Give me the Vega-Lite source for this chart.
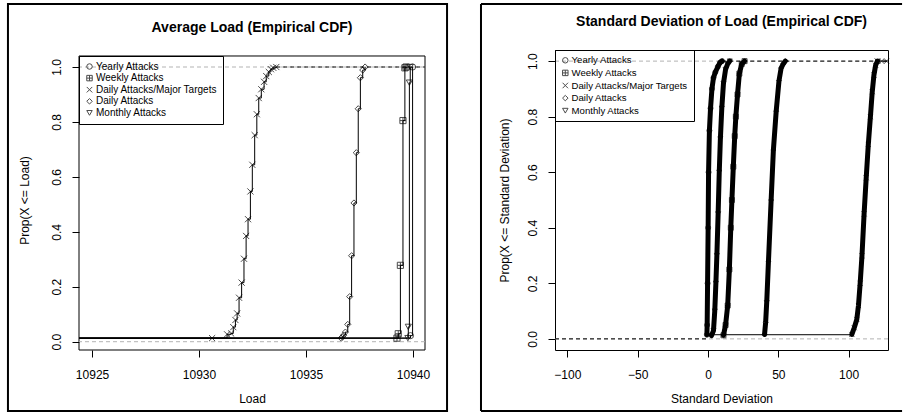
{
  "$schema": "https://vega.github.io/schema/vega-lite/v6.json",
  "background": "white",
  "padding": {"left": 6, "top": 2, "right": 0, "bottom": 2},
  "spacing": 30,
  "resolve": {"scale": {"shape": "independent"}, "legend": {"shape": "independent"}},
  "datasets": {
    "load": [
      {"s": "Daily Attacks/Major Targets", "x": 10924.39, "y": 0.013, "m": 0},
      {"s": "Daily Attacks/Major Targets", "x": 10930.61, "y": 0.013, "m": 1},
      {"s": "Daily Attacks/Major Targets", "x": 10931.31, "y": 0.027, "m": 1},
      {"s": "Daily Attacks/Major Targets", "x": 10931.50, "y": 0.030, "m": 1},
      {"s": "Daily Attacks/Major Targets", "x": 10931.60, "y": 0.053, "m": 1},
      {"s": "Daily Attacks/Major Targets", "x": 10931.70, "y": 0.079, "m": 1},
      {"s": "Daily Attacks/Major Targets", "x": 10931.78, "y": 0.103, "m": 1},
      {"s": "Daily Attacks/Major Targets", "x": 10931.87, "y": 0.160, "m": 1},
      {"s": "Daily Attacks/Major Targets", "x": 10931.99, "y": 0.215, "m": 1},
      {"s": "Daily Attacks/Major Targets", "x": 10932.10, "y": 0.302, "m": 1},
      {"s": "Daily Attacks/Major Targets", "x": 10932.20, "y": 0.385, "m": 1},
      {"s": "Daily Attacks/Major Targets", "x": 10932.29, "y": 0.446, "m": 1},
      {"s": "Daily Attacks/Major Targets", "x": 10932.40, "y": 0.547, "m": 1},
      {"s": "Daily Attacks/Major Targets", "x": 10932.49, "y": 0.644, "m": 1},
      {"s": "Daily Attacks/Major Targets", "x": 10932.60, "y": 0.752, "m": 1},
      {"s": "Daily Attacks/Major Targets", "x": 10932.70, "y": 0.828, "m": 1},
      {"s": "Daily Attacks/Major Targets", "x": 10932.79, "y": 0.887, "m": 1},
      {"s": "Daily Attacks/Major Targets", "x": 10932.91, "y": 0.919, "m": 1},
      {"s": "Daily Attacks/Major Targets", "x": 10933.04, "y": 0.946, "m": 1},
      {"s": "Daily Attacks/Major Targets", "x": 10933.14, "y": 0.967, "m": 1},
      {"s": "Daily Attacks/Major Targets", "x": 10933.26, "y": 0.982, "m": 1},
      {"s": "Daily Attacks/Major Targets", "x": 10933.36, "y": 0.992, "m": 1},
      {"s": "Daily Attacks/Major Targets", "x": 10933.47, "y": 0.997, "m": 1},
      {"s": "Daily Attacks/Major Targets", "x": 10933.61, "y": 1.0, "m": 1},
      {"s": "Daily Attacks", "x": 10924.39, "y": 0.013, "m": 0},
      {"s": "Daily Attacks", "x": 10936.64, "y": 0.013, "m": 1},
      {"s": "Daily Attacks", "x": 10936.70, "y": 0.017, "m": 1},
      {"s": "Daily Attacks", "x": 10936.76, "y": 0.024, "m": 1},
      {"s": "Daily Attacks", "x": 10936.84, "y": 0.035, "m": 1},
      {"s": "Daily Attacks", "x": 10936.95, "y": 0.063, "m": 1},
      {"s": "Daily Attacks", "x": 10937.04, "y": 0.164, "m": 1},
      {"s": "Daily Attacks", "x": 10937.13, "y": 0.313, "m": 1},
      {"s": "Daily Attacks", "x": 10937.24, "y": 0.505, "m": 1},
      {"s": "Daily Attacks", "x": 10937.35, "y": 0.688, "m": 1},
      {"s": "Daily Attacks", "x": 10937.44, "y": 0.848, "m": 1},
      {"s": "Daily Attacks", "x": 10937.54, "y": 0.961, "m": 1},
      {"s": "Daily Attacks", "x": 10937.65, "y": 0.989, "m": 1},
      {"s": "Daily Attacks", "x": 10937.76, "y": 1.0, "m": 1},
      {"s": "Weekly Attacks", "x": 10924.39, "y": 0.013, "m": 0},
      {"s": "Weekly Attacks", "x": 10939.25, "y": 0.013, "m": 1},
      {"s": "Weekly Attacks", "x": 10939.31, "y": 0.029, "m": 1},
      {"s": "Weekly Attacks", "x": 10939.41, "y": 0.278, "m": 1},
      {"s": "Weekly Attacks", "x": 10939.53, "y": 0.805, "m": 1},
      {"s": "Weekly Attacks", "x": 10939.62, "y": 0.997, "m": 1},
      {"s": "Weekly Attacks", "x": 10939.68, "y": 1.0, "m": 1},
      {"s": "Monthly Attacks", "x": 10924.39, "y": 0.013, "m": 0},
      {"s": "Monthly Attacks", "x": 10939.76, "y": 0.013, "m": 1},
      {"s": "Monthly Attacks", "x": 10939.78, "y": 0.054, "m": 1},
      {"s": "Monthly Attacks", "x": 10939.83, "y": 0.943, "m": 1},
      {"s": "Monthly Attacks", "x": 10939.87, "y": 1.0, "m": 1},
      {"s": "Yearly Attacks", "x": 10924.39, "y": 0.013, "m": 0},
      {"s": "Yearly Attacks", "x": 10939.88, "y": 0.022, "m": 1},
      {"s": "Yearly Attacks", "x": 10939.98, "y": 1.0, "m": 1}
    ],
    "sd": [
      {"s": "Yearly Attacks", "x": -0.8, "y": 0.015},
      {"s": "Yearly Attacks", "x": -0.6, "y": 0.05},
      {"s": "Yearly Attacks", "x": -0.3, "y": 0.2},
      {"s": "Yearly Attacks", "x": 0.1, "y": 0.4},
      {"s": "Yearly Attacks", "x": 0.4, "y": 0.6},
      {"s": "Yearly Attacks", "x": 1.0, "y": 0.75},
      {"s": "Yearly Attacks", "x": 1.8, "y": 0.83},
      {"s": "Yearly Attacks", "x": 2.8, "y": 0.9},
      {"s": "Yearly Attacks", "x": 3.9, "y": 0.94},
      {"s": "Yearly Attacks", "x": 5.2, "y": 0.96},
      {"s": "Yearly Attacks", "x": 7.0, "y": 0.98},
      {"s": "Yearly Attacks", "x": 8.6, "y": 0.995},
      {"s": "Yearly Attacks", "x": 10.0, "y": 1.0},
      {"s": "Monthly Attacks", "x": 2.5, "y": 0.012},
      {"s": "Monthly Attacks", "x": 3.9, "y": 0.03},
      {"s": "Monthly Attacks", "x": 4.8, "y": 0.1},
      {"s": "Monthly Attacks", "x": 5.6, "y": 0.2},
      {"s": "Monthly Attacks", "x": 6.3, "y": 0.3},
      {"s": "Monthly Attacks", "x": 7.2, "y": 0.45},
      {"s": "Monthly Attacks", "x": 8.0, "y": 0.6},
      {"s": "Monthly Attacks", "x": 8.8, "y": 0.72},
      {"s": "Monthly Attacks", "x": 9.8, "y": 0.83},
      {"s": "Monthly Attacks", "x": 11.0, "y": 0.92},
      {"s": "Monthly Attacks", "x": 12.5, "y": 0.97},
      {"s": "Monthly Attacks", "x": 14.0, "y": 0.99},
      {"s": "Monthly Attacks", "x": 15.5, "y": 1.0},
      {"s": "Weekly Attacks", "x": 11.0, "y": 0.013},
      {"s": "Weekly Attacks", "x": 12.5, "y": 0.05},
      {"s": "Weekly Attacks", "x": 14.0, "y": 0.12},
      {"s": "Weekly Attacks", "x": 15.2, "y": 0.25},
      {"s": "Weekly Attacks", "x": 16.2, "y": 0.4},
      {"s": "Weekly Attacks", "x": 17.0, "y": 0.5},
      {"s": "Weekly Attacks", "x": 18.0, "y": 0.62},
      {"s": "Weekly Attacks", "x": 19.0, "y": 0.73},
      {"s": "Weekly Attacks", "x": 19.8, "y": 0.8},
      {"s": "Weekly Attacks", "x": 21.0, "y": 0.88},
      {"s": "Weekly Attacks", "x": 22.3, "y": 0.955},
      {"s": "Weekly Attacks", "x": 24.0, "y": 0.99},
      {"s": "Weekly Attacks", "x": 26.0, "y": 1.0},
      {"s": "Daily Attacks", "x": 40.2, "y": 0.016},
      {"s": "Daily Attacks", "x": 41.0, "y": 0.06},
      {"s": "Daily Attacks", "x": 41.8, "y": 0.137},
      {"s": "Daily Attacks", "x": 43.0, "y": 0.28},
      {"s": "Daily Attacks", "x": 44.9, "y": 0.5},
      {"s": "Daily Attacks", "x": 46.5, "y": 0.68},
      {"s": "Daily Attacks", "x": 48.5, "y": 0.82},
      {"s": "Daily Attacks", "x": 50.5, "y": 0.93},
      {"s": "Daily Attacks", "x": 52.0, "y": 0.975},
      {"s": "Daily Attacks", "x": 53.5, "y": 0.99},
      {"s": "Daily Attacks", "x": 55.0, "y": 1.0},
      {"s": "Daily Attacks/Major Targets", "x": 102.3, "y": 0.016},
      {"s": "Daily Attacks/Major Targets", "x": 104.0, "y": 0.04},
      {"s": "Daily Attacks/Major Targets", "x": 105.8, "y": 0.07},
      {"s": "Daily Attacks/Major Targets", "x": 107.0, "y": 0.12},
      {"s": "Daily Attacks/Major Targets", "x": 108.2, "y": 0.2},
      {"s": "Daily Attacks/Major Targets", "x": 109.5, "y": 0.3},
      {"s": "Daily Attacks/Major Targets", "x": 111.0, "y": 0.45},
      {"s": "Daily Attacks/Major Targets", "x": 112.5, "y": 0.58},
      {"s": "Daily Attacks/Major Targets", "x": 114.0, "y": 0.7},
      {"s": "Daily Attacks/Major Targets", "x": 115.5, "y": 0.8},
      {"s": "Daily Attacks/Major Targets", "x": 116.8, "y": 0.89},
      {"s": "Daily Attacks/Major Targets", "x": 118.0, "y": 0.95},
      {"s": "Daily Attacks/Major Targets", "x": 119.2, "y": 0.985},
      {"s": "Daily Attacks/Major Targets", "x": 120.5, "y": 1.0}
    ],
    "sdtail": [
      {"s": "Daily Attacks/Major Targets", "x": 120.5, "y": 1.0},
      {"s": "Daily Attacks/Major Targets", "x": 123.5, "y": 1.0},
      {"s": "Daily Attacks/Major Targets", "x": 127.0, "y": 1.0}
    ],
    "ref": [{"h": 0}, {"h": 1}],
    "one": [{}]
  },
  "config": {
    "font": "Liberation Sans",
    "view": {"stroke": "black", "strokeWidth": 1},
    "title": {"fontSize": 14, "fontWeight": "bold", "color": "black", "frame": "group", "anchor": "middle", "font": "Liberation Sans"},
    "axis": {"domain": false, "grid": false, "tickColor": "black", "tickSize": 7, "labelFontSize": 12, "labelColor": "black", "titleFontSize": 12, "titleFontWeight": "normal", "titleColor": "black", "labelFont": "Liberation Sans", "titleFont": "Liberation Sans", "labelFlush": false, "labelOverlap": false},
    "axisX": {"labelPadding": 12, "titlePadding": 13},
    "axisY": {"labelAngle": 270, "labelAlign": "center", "labelBaseline": "bottom", "labelPadding": 9, "titlePadding": 19},
    "legend": {"strokeColor": "black", "padding": 5.5, "labelFontSize": 10, "labelColor": "black", "symbolSize": 30, "rowPadding": 1.6, "labelOffset": 1.5, "symbolStrokeColor": "black", "symbolStrokeWidth": 1, "labelFont": "Liberation Sans"}
  },
  "hconcat": [
    {
      "width": 346,
      "height": 300,
      "view": {"stroke": null},
      "title": {"text": "Average Load (Empirical CDF)", "offset": -32},
      "layer": [
        {
          "data": {"name": "one"},
          "mark": {"type": "rect", "fill": "transparent", "stroke": "black", "strokeWidth": 2},
          "encoding": {
            "x": {"datum": 10921.07, "type": "quantitative", "scale": {"domain": [10924.39, 10940.56], "nice": false, "zero": false},
                  "axis": {"title": "Load", "values": [10925, 10930, 10935, 10940], "format": "d"}},
            "x2": {"datum": 10941.59},
            "y": {"datum": 1.2294, "type": "quantitative", "scale": {"domain": [-0.0302, 1.0619], "nice": false, "zero": false},
                  "axis": {"title": "Prop(X <= Load)", "values": [0, 0.2, 0.4, 0.6, 0.8, 1.0], "format": ".1f"}},
            "y2": {"datum": -0.2523}
          }
        },
        {
          "data": {"name": "one"},
          "mark": {"type": "rect", "fill": "transparent", "stroke": "black", "strokeWidth": 1},
          "encoding": {
            "x": {"datum": 10924.39, "type": "quantitative", "scale": {"domain": [10924.39, 10940.56], "nice": false, "zero": false},
                  "axis": {"title": "Load", "values": [10925, 10930, 10935, 10940], "format": "d"}},
            "x2": {"datum": 10940.56},
            "y": {"datum": 1.0401, "type": "quantitative", "scale": {"domain": [-0.0302, 1.0619], "nice": false, "zero": false},
                  "axis": {"title": "Prop(X <= Load)", "values": [0, 0.2, 0.4, 0.6, 0.8, 1.0], "format": ".1f"}},
            "y2": {"datum": -0.0302}
          }
        },
        {
          "data": {"name": "ref"},
          "mark": {"type": "rule", "color": "#b3b3b3", "strokeDash": [4, 3], "strokeWidth": 1},
          "encoding": {
            "y": {"field": "h", "type": "quantitative", "scale": {"domain": [-0.0302, 1.0619], "nice": false, "zero": false},
                  "axis": {"title": "Prop(X <= Load)", "values": [0, 0.2, 0.4, 0.6, 0.8, 1.0], "format": ".1f"}}
          }
        },
        {
          "data": {"name": "one"},
          "mark": {"type": "rule", "color": "black", "strokeDash": [4, 3], "strokeWidth": 1},
          "encoding": {
            "x": {"datum": 10933.61, "type": "quantitative", "scale": {"domain": [10924.39, 10940.56], "nice": false, "zero": false},
                  "axis": {"title": "Load", "values": [10925, 10930, 10935, 10940], "format": "d"}},
            "x2": {"datum": 10940.56},
            "y": {"datum": 1, "type": "quantitative", "scale": {"domain": [-0.0302, 1.0619], "nice": false, "zero": false},
                  "axis": {"title": "Prop(X <= Load)", "values": [0, 0.2, 0.4, 0.6, 0.8, 1.0], "format": ".1f"}}
          }
        },
        {
          "data": {"name": "load"},
          "mark": {"type": "line", "interpolate": "step-after", "color": "black", "strokeWidth": 1},
          "encoding": {
            "detail": {"field": "s", "type": "nominal"},
            "order": {"field": "x", "type": "quantitative"},
            "x": {"field": "x", "type": "quantitative", "scale": {"domain": [10924.39, 10940.56], "nice": false, "zero": false},
                  "axis": {"title": "Load", "values": [10925, 10930, 10935, 10940], "format": "d"}},
            "y": {"field": "y", "type": "quantitative", "scale": {"domain": [-0.0302, 1.0619], "nice": false, "zero": false},
                  "axis": {"title": "Prop(X <= Load)", "values": [0, 0.2, 0.4, 0.6, 0.8, 1.0], "format": ".1f"}}
          }
        },
        {
          "data": {"name": "load"},
          "transform": [{"filter": "datum.m == 1"}],
          "mark": {"type": "point", "filled": false, "color": "black", "strokeWidth": 1, "size": 38},
          "encoding": {
            "x": {"field": "x", "type": "quantitative", "scale": {"domain": [10924.39, 10940.56], "nice": false, "zero": false},
                  "axis": {"title": "Load", "values": [10925, 10930, 10935, 10940], "format": "d"}},
            "y": {"field": "y", "type": "quantitative", "scale": {"domain": [-0.0302, 1.0619], "nice": false, "zero": false},
                  "axis": {"title": "Prop(X <= Load)", "values": [0, 0.2, 0.4, 0.6, 0.8, 1.0], "format": ".1f"}},
            "shape": {"field": "s", "type": "nominal",
              "scale": {"domain": ["Yearly Attacks", "Weekly Attacks", "Daily Attacks/Major Targets", "Daily Attacks", "Monthly Attacks"],
                        "range": ["circle", "M-1,-1H1V1H-1Z M0,-1V1 M-1,0H1", "M-1,-1L1,1M-1,1L1,-1", "diamond", "triangle-down"]},
              "legend": {"title": null, "orient": "none", "legendX": 0, "legendY": 6, "labelFontSize": 10}}
          }
        }
      ]
    },
    {
      "width": 333,
      "height": 300,
      "title": {"text": "Standard Deviation of Load (Empirical CDF)", "offset": -25.5},
      "layer": [
        {
          "data": {"name": "one"},
          "mark": {"type": "rule", "color": "black", "strokeWidth": 2},
          "encoding": {
            "x": {"datum": -161.43, "type": "quantitative", "scale": {"domain": [-108.8, 128], "nice": false, "zero": false},
                  "axis": {"title": "Standard Deviation", "values": [-100, -50, 0, 50, 100], "format": "d"}},
            "y": {"datum": 1.2056, "type": "quantitative", "scale": {"domain": [-0.04, 1.04], "nice": false, "zero": false},
                  "axis": {"title": "Prop(X <= Standard Deviation)", "values": [0, 0.2, 0.4, 0.6, 0.8, 1.0], "format": ".1f", "titlePadding": 15}},
            "y2": {"datum": -0.2595}
          }
        },
        {
          "data": {"name": "one"},
          "mark": {"type": "rule", "color": "black", "strokeWidth": 2},
          "encoding": {
            "x": {"datum": -161.43, "type": "quantitative", "scale": {"domain": [-108.8, 128], "nice": false, "zero": false},
                  "axis": {"title": "Standard Deviation", "values": [-100, -50, 0, 50, 100], "format": "d"}},
            "x2": {"datum": 138.0},
            "y": {"datum": 1.2056, "type": "quantitative", "scale": {"domain": [-0.04, 1.04], "nice": false, "zero": false},
                  "axis": {"title": "Prop(X <= Standard Deviation)", "values": [0, 0.2, 0.4, 0.6, 0.8, 1.0], "format": ".1f", "titlePadding": 15}}
          }
        },
        {
          "data": {"name": "one"},
          "mark": {"type": "rule", "color": "black", "strokeWidth": 2},
          "encoding": {
            "x": {"datum": -161.43, "type": "quantitative", "scale": {"domain": [-108.8, 128], "nice": false, "zero": false},
                  "axis": {"title": "Standard Deviation", "values": [-100, -50, 0, 50, 100], "format": "d"}},
            "x2": {"datum": 138.0},
            "y": {"datum": -0.2595, "type": "quantitative", "scale": {"domain": [-0.04, 1.04], "nice": false, "zero": false},
                  "axis": {"title": "Prop(X <= Standard Deviation)", "values": [0, 0.2, 0.4, 0.6, 0.8, 1.0], "format": ".1f", "titlePadding": 15}}
          }
        },
        {
          "data": {"name": "ref"},
          "mark": {"type": "rule", "color": "#b3b3b3", "strokeDash": [4, 3], "strokeWidth": 1},
          "encoding": {
            "y": {"field": "h", "type": "quantitative", "scale": {"domain": [-0.04, 1.04], "nice": false, "zero": false},
                  "axis": {"title": "Prop(X <= Standard Deviation)", "values": [0, 0.2, 0.4, 0.6, 0.8, 1.0], "format": ".1f", "titlePadding": 15}}
          }
        },
        {
          "data": {"name": "one"},
          "mark": {"type": "rule", "color": "black", "strokeDash": [4, 3], "strokeWidth": 1},
          "encoding": {
            "x": {"datum": 10, "type": "quantitative", "scale": {"domain": [-108.8, 128], "nice": false, "zero": false},
                  "axis": {"title": "Standard Deviation", "values": [-100, -50, 0, 50, 100], "format": "d"}},
            "x2": {"datum": 128},
            "y": {"datum": 1, "type": "quantitative", "scale": {"domain": [-0.04, 1.04], "nice": false, "zero": false},
                  "axis": {"title": "Prop(X <= Standard Deviation)", "values": [0, 0.2, 0.4, 0.6, 0.8, 1.0], "format": ".1f", "titlePadding": 15}}
          }
        },
        {
          "data": {"name": "one"},
          "mark": {"type": "rule", "color": "black", "strokeDash": [4, 3], "strokeWidth": 1},
          "encoding": {
            "x": {"datum": -108.8, "type": "quantitative", "scale": {"domain": [-108.8, 128], "nice": false, "zero": false},
                  "axis": {"title": "Standard Deviation", "values": [-100, -50, 0, 50, 100], "format": "d"}},
            "x2": {"datum": -1},
            "y": {"datum": 0, "type": "quantitative", "scale": {"domain": [-0.04, 1.04], "nice": false, "zero": false},
                  "axis": {"title": "Prop(X <= Standard Deviation)", "values": [0, 0.2, 0.4, 0.6, 0.8, 1.0], "format": ".1f", "titlePadding": 15}}
          }
        },
        {
          "data": {"name": "one"},
          "mark": {"type": "rule", "color": "black", "strokeWidth": 1},
          "encoding": {
            "x": {"datum": -1, "type": "quantitative", "scale": {"domain": [-108.8, 128], "nice": false, "zero": false},
                  "axis": {"title": "Standard Deviation", "values": [-100, -50, 0, 50, 100], "format": "d"}},
            "x2": {"datum": 102.3},
            "y": {"datum": 0.015, "type": "quantitative", "scale": {"domain": [-0.04, 1.04], "nice": false, "zero": false},
                  "axis": {"title": "Prop(X <= Standard Deviation)", "values": [0, 0.2, 0.4, 0.6, 0.8, 1.0], "format": ".1f", "titlePadding": 15}}
          }
        },
        {
          "data": {"name": "sdtail"},
          "mark": {"type": "line", "color": "black", "strokeWidth": 1},
          "encoding": {
            "x": {"field": "x", "type": "quantitative", "scale": {"domain": [-108.8, 128], "nice": false, "zero": false},
                  "axis": {"title": "Standard Deviation", "values": [-100, -50, 0, 50, 100], "format": "d"}},
            "y": {"field": "y", "type": "quantitative", "scale": {"domain": [-0.04, 1.04], "nice": false, "zero": false},
                  "axis": {"title": "Prop(X <= Standard Deviation)", "values": [0, 0.2, 0.4, 0.6, 0.8, 1.0], "format": ".1f", "titlePadding": 15}}
          }
        },
        {
          "data": {"name": "sd"},
          "mark": {"type": "line", "color": "black", "strokeWidth": 5, "strokeCap": "round", "strokeJoin": "round"},
          "encoding": {
            "detail": {"field": "s", "type": "nominal"},
            "order": {"field": "y", "type": "quantitative"},
            "x": {"field": "x", "type": "quantitative", "scale": {"domain": [-108.8, 128], "nice": false, "zero": false},
                  "axis": {"title": "Standard Deviation", "values": [-100, -50, 0, 50, 100], "format": "d"}},
            "y": {"field": "y", "type": "quantitative", "scale": {"domain": [-0.04, 1.04], "nice": false, "zero": false},
                  "axis": {"title": "Prop(X <= Standard Deviation)", "values": [0, 0.2, 0.4, 0.6, 0.8, 1.0], "format": ".1f", "titlePadding": 15}}
          }
        },
        {
          "data": {"name": "sd"},
          "mark": {"type": "point", "filled": false, "color": "black", "strokeWidth": 1, "size": 25},
          "encoding": {
            "x": {"field": "x", "type": "quantitative", "scale": {"domain": [-108.8, 128], "nice": false, "zero": false},
                  "axis": {"title": "Standard Deviation", "values": [-100, -50, 0, 50, 100], "format": "d"}},
            "y": {"field": "y", "type": "quantitative", "scale": {"domain": [-0.04, 1.04], "nice": false, "zero": false},
                  "axis": {"title": "Prop(X <= Standard Deviation)", "values": [0, 0.2, 0.4, 0.6, 0.8, 1.0], "format": ".1f", "titlePadding": 15}},
            "shape": {"field": "s", "type": "nominal",
              "scale": {"domain": ["Yearly Attacks", "Weekly Attacks", "Daily Attacks/Major Targets", "Daily Attacks", "Monthly Attacks"],
                        "range": ["circle", "M-1,-1H1V1H-1Z M0,-1V1 M-1,0H1", "M-1,-1L1,1M-1,1L1,-1", "diamond", "triangle-down"]},
              "legend": {"title": null, "orient": "none", "legendX": 0, "legendY": 0, "labelFontSize": 9.6}}
          }
        },
        {
          "data": {"name": "sdtail"},
          "mark": {"type": "point", "filled": false, "color": "black", "strokeWidth": 1, "size": 25},
          "encoding": {
            "x": {"field": "x", "type": "quantitative", "scale": {"domain": [-108.8, 128], "nice": false, "zero": false},
                  "axis": {"title": "Standard Deviation", "values": [-100, -50, 0, 50, 100], "format": "d"}},
            "y": {"field": "y", "type": "quantitative", "scale": {"domain": [-0.04, 1.04], "nice": false, "zero": false},
                  "axis": {"title": "Prop(X <= Standard Deviation)", "values": [0, 0.2, 0.4, 0.6, 0.8, 1.0], "format": ".1f", "titlePadding": 15}},
            "shape": {"field": "s", "type": "nominal",
              "scale": {"domain": ["Yearly Attacks", "Weekly Attacks", "Daily Attacks/Major Targets", "Daily Attacks", "Monthly Attacks"],
                        "range": ["circle", "M-1,-1H1V1H-1Z M0,-1V1 M-1,0H1", "M-1,-1L1,1M-1,1L1,-1", "diamond", "triangle-down"]},
              "legend": {"title": null, "orient": "none", "legendX": 0, "legendY": 0, "labelFontSize": 9.6}}
          }
        }
      ]
    }
  ]
}
